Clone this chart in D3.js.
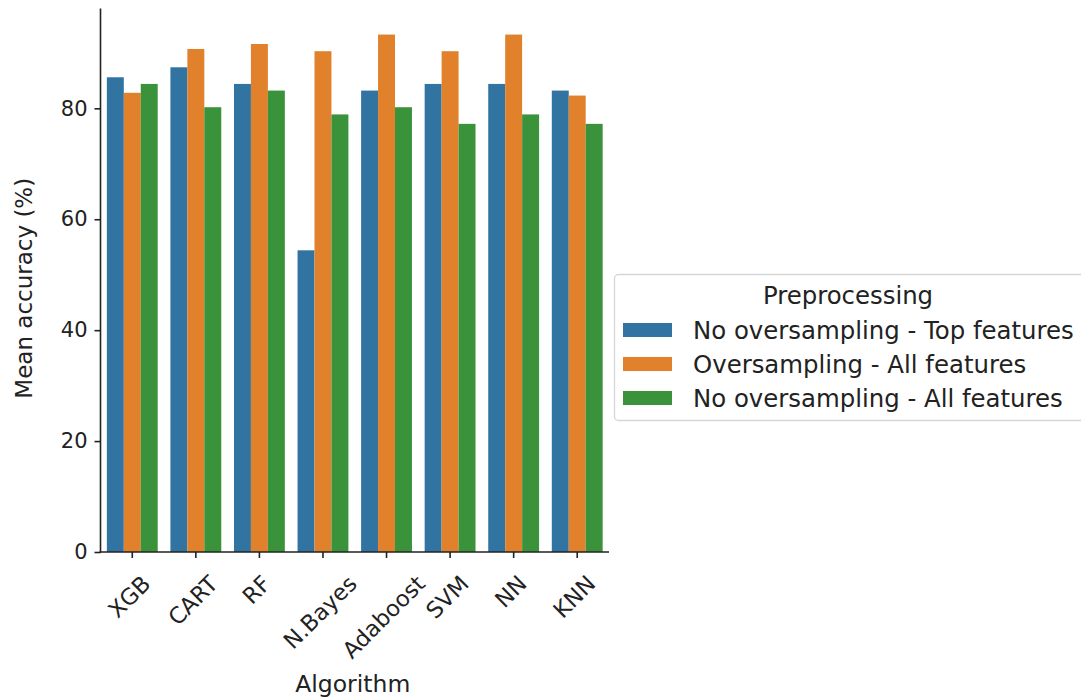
<!DOCTYPE html>
<html>
<head>
<meta charset="utf-8">
<script src="https://cdn.jsdelivr.net/npm/d3@7/dist/d3.min.js"></script>
<style>
html,body{margin:0;padding:0;background:#fff;}
svg{display:block;font-family:"DejaVu Sans",sans-serif;}
</style>
</head>
<body>
<svg id="chart" width="1081" height="697"></svg>
<script>
const categories = ["XGB","CART","RF","N.Bayes","Adaboost","SVM","NN","KNN"];
const seriesNames = ["No oversampling - Top features","Oversampling - All features","No oversampling - All features"];
const topFeatures = [85.6, 87.4, 84.4, 54.4, 83.2, 84.4, 84.4, 83.2];
const oversampAll = [82.8, 90.7, 91.6, 90.3, 93.3, 90.3, 93.3, 82.3];
const noOversampAll = [84.4, 80.2, 83.2, 78.9, 80.2, 77.2, 78.9, 77.2];
const yTicks = [0, 20, 40, 60, 80];
const colors = ["#3274a1","#e1812c","#3a923a"];
const legendTitle = "Preprocessing";
const xLabel = "Algorithm";
const yLabel = "Mean accuracy (%)";

const series = [topFeatures, oversampAll, noOversampAll];
const svg = d3.select("#chart");

const x0 = 100.5, x1 = 609, yBottom = 552, yTop = 8.5;
const x = d3.scaleBand().domain(categories).range([x0, x1]).paddingInner(0.2).paddingOuter(0.1);
const xTick = d3.scaleBand().domain(categories).range([x0, x1]);
const xs = d3.scaleBand().domain(d3.range(series.length)).range([0, x.bandwidth()]);
const y = d3.scaleLinear().domain([0, 98]).range([yBottom, yTop]);

// bars
const g = svg.append("g");
series.forEach((vals, si) => {
  g.selectAll(null).data(categories).enter().append("rect")
    .attr("x", c => x(c) + xs(si))
    .attr("width", xs.bandwidth())
    .attr("y", (c, i) => y(vals[i]))
    .attr("height", (c, i) => y(0) - y(vals[i]))
    .attr("fill", colors[si]);
});

// y axis
const yAxis = d3.axisLeft(y).tickValues(yTicks).tickSize(6).tickPadding(7);
const yg = svg.append("g").attr("transform", `translate(${x0},0)`).call(yAxis);
yg.select(".domain").remove();
yg.selectAll(".tick line").attr("stroke", "#222").attr("stroke-width", 1.6);
yg.selectAll(".tick text").attr("font-size", 21).attr("fill", "#222").attr("font-family", "DejaVu Sans");
svg.append("line").attr("x1", x0).attr("x2", x0).attr("y1", yTop).attr("y2", yBottom + 0.8)
  .attr("stroke", "#222").attr("stroke-width", 1.6);

// x axis
const xAxis = d3.axisBottom(xTick).tickSize(6).tickFormat(() => "");
const xg = svg.append("g").attr("transform", `translate(0,${yBottom})`).call(xAxis);
xg.select(".domain").remove();
xg.selectAll(".tick line").attr("stroke", "#222").attr("stroke-width", 1.6);
svg.append("line").attr("x1", x0 - 0.8).attr("x2", x1).attr("y1", yBottom).attr("y2", yBottom)
  .attr("stroke", "#222").attr("stroke-width", 1.6);

// rotated x tick labels (centered bbox, top aligned)
const fs = 22.5;
const labelTop = yBottom + 6 + 14;
categories.forEach(c => {
  const t = svg.append("text").text(c).attr("font-size", fs).attr("fill", "#222")
    .attr("text-anchor", "middle").attr("dominant-baseline", "central");
  const w = t.node().getComputedTextLength();
  const h = fs * 0.95;
  const half = (w + h) / (2 * Math.SQRT2);
  const cx = xTick(c) + xTick.bandwidth() / 2 - 3;
  const cy = labelTop + half;
  t.attr("transform", `translate(${cx},${cy}) rotate(-45)`);
});

// axis labels
svg.append("text").text(xLabel).attr("x", (x0 + x1) / 2 - 2).attr("y", 692)
  .attr("text-anchor", "middle").attr("font-size", 23.5).attr("fill", "#222");
svg.append("text").text(yLabel)
  .attr("transform", `translate(32,${(yTop + yBottom) / 2 + 8}) rotate(-90)`)
  .attr("text-anchor", "middle").attr("font-size", 23).attr("fill", "#222");

// legend
const lg = svg.append("g");
lg.append("rect").attr("x", 614.5).attr("y", 274.5).attr("width", 470).attr("height", 146)
  .attr("rx", 4).attr("fill", "#fff").attr("stroke", "#d6d6d6").attr("stroke-width", 1.3);
lg.append("text").text(legendTitle).attr("x", 848).attr("y", 295).attr("dominant-baseline", "central")
  .attr("text-anchor", "middle").attr("font-size", 24.4).attr("fill", "#222");
const rowY = [330, 364, 398];
seriesNames.forEach((n, i) => {
  lg.append("rect").attr("x", 623).attr("y", rowY[i] - 7).attr("width", 49).attr("height", 14)
    .attr("fill", colors[i]);
  lg.append("text").text(n).attr("x", 693).attr("y", rowY[i]).attr("dominant-baseline", "central")
    .attr("font-size", 24.4).attr("fill", "#222");
});
</script>
</body>
</html>
